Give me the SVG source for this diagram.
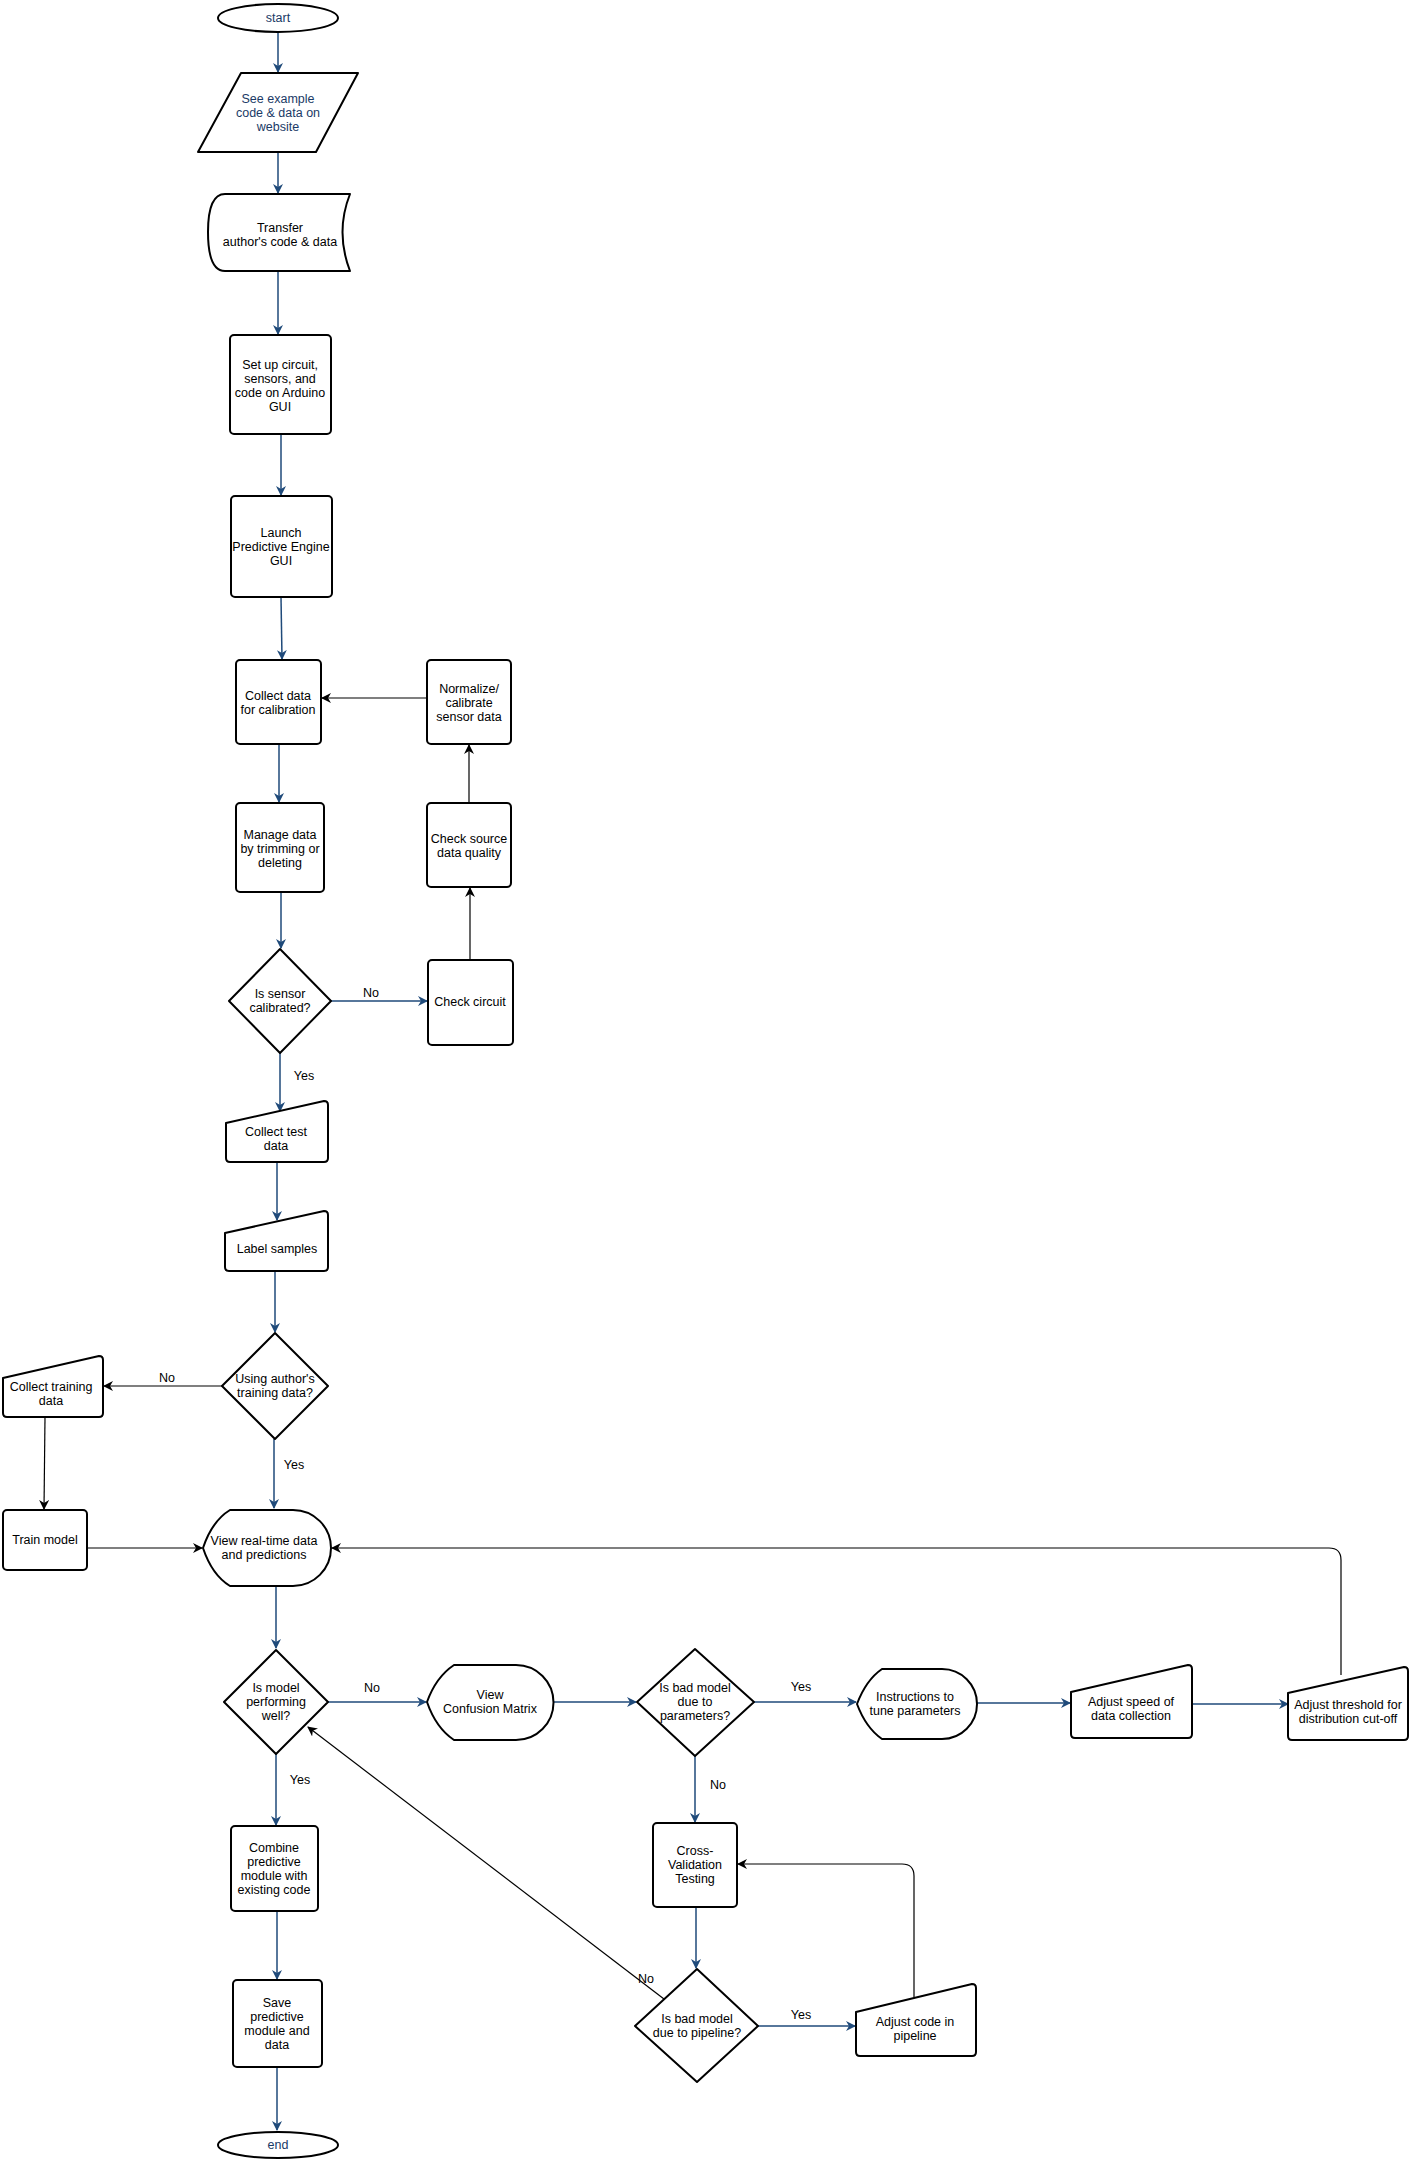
<svg xmlns="http://www.w3.org/2000/svg" width="1411" height="2162" viewBox="0 0 1411 2162">
<style>
.n{fill:#fff;stroke:#000;stroke-width:2;stroke-linejoin:round}
.t{font-family:"Liberation Sans",Arial,sans-serif;font-size:12.5px;fill:#000;text-anchor:middle}
.tb{fill:#1a3a66}
.b{stroke:#1f4a7a;stroke-width:1.5;fill:none;marker-end:url(#ab)}
.k{stroke:#000;stroke-width:1.2;fill:none;marker-end:url(#ak)}
.l{font-family:"Liberation Sans",Arial,sans-serif;font-size:12.5px;fill:#000;text-anchor:middle}
</style>
<defs>
<marker id="ab" markerWidth="10" markerHeight="10" refX="9" refY="5" orient="auto" markerUnits="userSpaceOnUse"><path d="M0,0 L10,5 L0,10 L3,5 Z" fill="#1f4a7a"/></marker>
<marker id="ak" markerWidth="10" markerHeight="10" refX="9" refY="5" orient="auto" markerUnits="userSpaceOnUse"><path d="M0,0 L10,5 L0,10 L3,5 Z" fill="#000"/></marker>
</defs>
<rect width="1411" height="2162" fill="#fff"/>
<g id="connectors">
<path class="b" d="M278,33 V72"/>
<path class="b" d="M278,152 V193"/>
<path class="b" d="M278,271 V334"/>
<path class="b" d="M281,434 V495"/>
<path class="b" d="M281,597 L282,659"/>
<path class="b" d="M279,744 V802"/>
<path class="b" d="M281,892 V948"/>
<path class="b" d="M331,1001 H427"/>
<path class="b" d="M280,1053 V1111"/>
<path class="b" d="M277,1162 V1220"/>
<path class="b" d="M275,1271 V1332"/>
<path class="b" d="M274,1439 V1508"/>
<path class="b" d="M276,1586 V1648"/>
<path class="b" d="M328,1702 H426"/>
<path class="b" d="M553,1702 H636"/>
<path class="b" d="M754,1702 H856"/>
<path class="b" d="M977,1703 H1070"/>
<path class="b" d="M1192,1704 H1288"/>
<path class="b" d="M695,1756 V1822"/>
<path class="b" d="M696,1907 V1968"/>
<path class="b" d="M758,2026 H855"/>
<path class="b" d="M276,1754 V1825"/>
<path class="b" d="M277,1911 V1979"/>
<path class="b" d="M277,2067 V2130"/>
<path class="k" d="M427,698 H322"/>
<path class="k" d="M469,803 V745"/>
<path class="k" d="M470,960 V888"/>
<path class="k" d="M222,1386 H104"/>
<path class="k" d="M45,1417 L44,1509"/>
<path class="k" d="M87,1548 H202"/>
<path class="k" d="M1341,1675 V1560 Q1341,1548 1329,1548 H332"/>
<path class="k" d="M914,1997 V1876 Q914,1864 902,1864 H738"/>
<path class="k" d="M664,1999 L308,1727"/>
<text class="l" x="371" y="997">No</text>
<text class="l" x="304" y="1080">Yes</text>
<text class="l" x="167" y="1382">No</text>
<text class="l" x="294" y="1469">Yes</text>
<text class="l" x="372" y="1692">No</text>
<text class="l" x="300" y="1784">Yes</text>
<text class="l" x="801" y="1691">Yes</text>
<text class="l" x="718" y="1789">No</text>
<text class="l" x="646" y="1983">No</text>
<text class="l" x="801" y="2019">Yes</text>
</g>
<g id="start"><ellipse class="n" cx="278" cy="18" rx="60" ry="14"/><text class="t tb" x="278" y="22">start</text></g>
<g id="see"><path class="n" d="M241,73 H358 L316,152 H198 Z"/><text class="t tb" x="278" y="103">See example</text><text class="t tb" x="278" y="117">code &amp; data on</text><text class="t tb" x="278" y="131">website</text></g>
<g id="transfer"><path class="n" d="M225,194 H350 Q335,232 350,271 H225 Q208,271 208,232 Q208,194 225,194 Z"/><text class="t" x="280" y="232">Transfer</text><text class="t" x="280" y="246">author's code &amp; data</text></g>
<g id="setup"><rect class="n" x="230" y="335" width="101" height="99" rx="4"/><text class="t" x="280" y="369">Set up circuit,</text><text class="t" x="280" y="383">sensors, and</text><text class="t" x="280" y="397">code on Arduino</text><text class="t" x="280" y="411">GUI</text></g>
<g id="launch"><rect class="n" x="231" y="496" width="101" height="101" rx="4"/><text class="t" x="281" y="537">Launch</text><text class="t" x="281" y="551">Predictive Engine</text><text class="t" x="281" y="565">GUI</text></g>
<g id="collectcal"><rect class="n" x="236" y="660" width="85" height="84" rx="4"/><text class="t" x="278" y="700">Collect data</text><text class="t" x="278" y="714">for calibration</text></g>
<g id="normalize"><rect class="n" x="427" y="660" width="84" height="84" rx="4"/><text class="t" x="469" y="693">Normalize/</text><text class="t" x="469" y="707">calibrate</text><text class="t" x="469" y="721">sensor data</text></g>
<g id="manage"><rect class="n" x="236" y="803" width="88" height="89" rx="4"/><text class="t" x="280" y="839">Manage data</text><text class="t" x="280" y="853">by trimming or</text><text class="t" x="280" y="867">deleting</text></g>
<g id="source"><rect class="n" x="427" y="803" width="84" height="84" rx="4"/><text class="t" x="469" y="843">Check source</text><text class="t" x="469" y="857">data quality</text></g>
<g id="sensor"><path class="n" d="M280,949 L331,1001 L280,1053 L229,1001 Z"/><text class="t" x="280" y="998">Is sensor</text><text class="t" x="280" y="1012">calibrated?</text></g>
<g id="circuit"><rect class="n" x="428" y="960" width="85" height="85" rx="4"/><text class="t" x="470" y="1006">Check circuit</text></g>
<g id="collecttest"><path class="n" d="M226,1123 L324,1101 Q328,1101 328,1105 V1158 Q328,1162 324,1162 H230 Q226,1162 226,1158 Z"/><text class="t" x="276" y="1136">Collect test</text><text class="t" x="276" y="1150">data</text></g>
<g id="label"><path class="n" d="M225,1233 L324,1211 Q328,1211 328,1215 V1267 Q328,1271 324,1271 H229 Q225,1271 225,1267 Z"/><text class="t" x="277" y="1253">Label samples</text></g>
<g id="using"><path class="n" d="M275,1333 L328,1386 L275,1439 L222,1386 Z"/><text class="t" x="275" y="1383">Using author's</text><text class="t" x="275" y="1397">training data?</text></g>
<g id="collecttrain"><path class="n" d="M3,1378 L99,1356 Q103,1356 103,1360 V1413 Q103,1417 99,1417 H7 Q3,1417 3,1413 Z"/><text class="t" x="51" y="1391">Collect training</text><text class="t" x="51" y="1405">data</text></g>
<g id="train"><rect class="n" x="3" y="1510" width="84" height="60" rx="4"/><text class="t" x="45" y="1544">Train model</text></g>
<g id="view"><path class="n" d="M230,1510 H293 A38,38 0 0 1 293,1586 H230 Q212,1575 203,1548 Q212,1521 230,1510 Z"/><text class="t" x="264" y="1545">View real-time data</text><text class="t" x="264" y="1559">and predictions</text></g>
<g id="model"><path class="n" d="M276,1650 L328,1702 L276,1754 L224,1702 Z"/><text class="t" x="276" y="1692">Is model</text><text class="t" x="276" y="1706">performing</text><text class="t" x="276" y="1720">well?</text></g>
<g id="confusion"><path class="n" d="M454,1665 H516 A37,37 0 0 1 516,1740 H454 Q436,1728 427,1702 Q436,1677 454,1665 Z"/><text class="t" x="490" y="1699">View</text><text class="t" x="490" y="1713">Confusion Matrix</text></g>
<g id="badparam"><path class="n" d="M695,1649 L754,1702 L695,1756 L637,1702 Z"/><text class="t" x="695" y="1692">Is bad model</text><text class="t" x="695" y="1706">due to</text><text class="t" x="695" y="1720">parameters?</text></g>
<g id="instr"><path class="n" d="M882,1669 H942 A35,35 0 0 1 942,1739 H882 Q866,1728 857,1704 Q866,1680 882,1669 Z"/><text class="t" x="915" y="1701">Instructions to</text><text class="t" x="915" y="1715">tune parameters</text></g>
<g id="speed"><path class="n" d="M1071,1692 L1188,1665 Q1192,1665 1192,1669 V1734 Q1192,1738 1188,1738 H1075 Q1071,1738 1071,1734 Z"/><text class="t" x="1131" y="1706">Adjust speed of</text><text class="t" x="1131" y="1720">data collection</text></g>
<g id="threshold"><path class="n" d="M1288,1693 L1404,1667 Q1408,1667 1408,1671 V1736 Q1408,1740 1404,1740 H1292 Q1288,1740 1288,1736 Z"/><text class="t" x="1348" y="1709">Adjust threshold for</text><text class="t" x="1348" y="1723">distribution cut-off</text></g>
<g id="cross"><rect class="n" x="653" y="1823" width="84" height="84" rx="4"/><text class="t" x="695" y="1855">Cross-</text><text class="t" x="695" y="1869">Validation</text><text class="t" x="695" y="1883">Testing</text></g>
<g id="pipeline"><path class="n" d="M697,1969 L758,2026 L697,2082 L635,2026 Z"/><text class="t" x="697" y="2023">Is bad model</text><text class="t" x="697" y="2037">due to pipeline?</text></g>
<g id="adjustcode"><path class="n" d="M856,2012 L972,1984 Q976,1984 976,1988 V2052 Q976,2056 972,2056 H860 Q856,2056 856,2052 Z"/><text class="t" x="915" y="2026">Adjust code in</text><text class="t" x="915" y="2040">pipeline</text></g>
<g id="combine"><rect class="n" x="231" y="1826" width="87" height="85" rx="4"/><text class="t" x="274" y="1852">Combine</text><text class="t" x="274" y="1866">predictive</text><text class="t" x="274" y="1880">module with</text><text class="t" x="274" y="1894">existing code</text></g>
<g id="save"><rect class="n" x="233" y="1980" width="89" height="87" rx="4"/><text class="t" x="277" y="2007">Save</text><text class="t" x="277" y="2021">predictive</text><text class="t" x="277" y="2035">module and</text><text class="t" x="277" y="2049">data</text></g>
<g id="end"><ellipse class="n" cx="278" cy="2145" rx="60" ry="13"/><text class="t tb" x="278" y="2149">end</text></g>
</svg>
